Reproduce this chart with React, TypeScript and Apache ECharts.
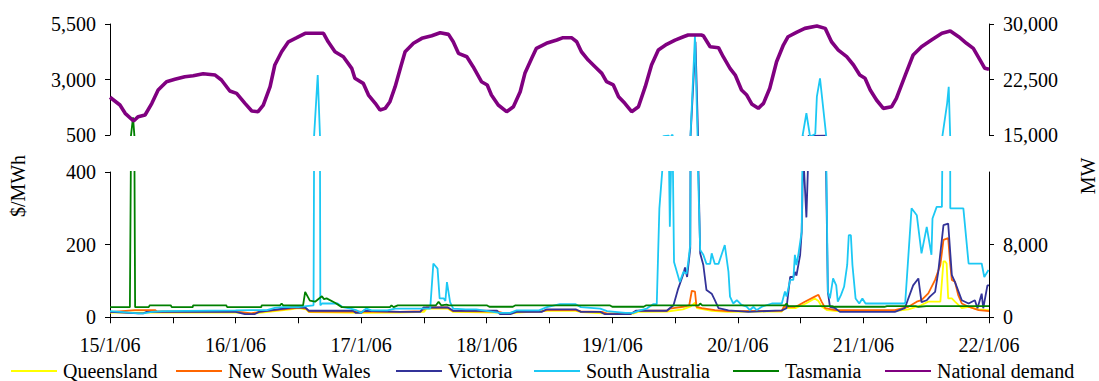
import React, { useEffect, useRef } from "react";
import * as echarts from "echarts";

// Hours since 00:00 on 15/1/06, paired with values.
// Spot prices in $/MWh by region, national demand in MW.
const queensland: [number, number][] = [
  [0, 13], [24, 13], [27, 10], [29, 13], [34.5, 22], [36, 25], [37.5, 22], [38, 14], [48, 12],
  [55.4, 13], [60, 15], [60.5, 24], [64.5, 24], [65.5, 15], [74, 13], [76.5, 10], [78, 13],
  [83.5, 18], [89, 18], [90, 14], [95, 10], [100, 10], [101, 15], [106.5, 16], [109.5, 22],
  [111, 30], [111.8, 40], [112.2, 25], [115, 18], [118, 15], [128.4, 16], [129, 25], [131, 25],
  [133, 38], [134.7, 52], [135.4, 45], [136, 30], [137, 20], [139, 17], [150, 17], [152.6, 22],
  [155, 33], [156.4, 43], [157.7, 43], [158.7, 43], [159.3, 154], [159.6, 154], [159.9, 148],
  [160.2, 52], [160.9, 52], [161.5, 43], [162.8, 25], [164.1, 29], [166, 22], [168, 20],
];

const newSouthWales: [number, number][] = [
  [0, 14], [4.8, 20], [8.6, 20], [9, 16], [24, 16], [27, 11], [29, 16], [34.5, 24], [36, 27],
  [37.5, 24], [38, 16], [55.4, 15], [59.5, 17], [60.5, 27], [64.5, 27], [65.5, 17], [74, 16],
  [75, 12], [76.5, 12], [78, 16], [82.5, 16], [83.5, 20], [89, 20], [90, 16], [94, 15], [95, 10],
  [99.5, 10], [101, 18], [106.5, 18], [107, 24], [108, 26], [109.5, 29], [110.7, 33], [111.2, 73],
  [111.8, 71], [112.1, 29], [113.1, 25], [115.6, 20], [118, 17], [128.4, 18], [128.8, 29],
  [130.9, 29], [131.6, 33], [132.8, 43], [134.7, 57], [135.4, 62], [136, 43], [136.7, 25],
  [138.6, 20], [150, 20], [152.6, 29], [154.2, 43], [155.1, 47], [156.4, 66], [157.7, 103],
  [158.7, 144], [159.3, 213], [160.2, 218], [160.6, 144], [160.9, 103], [161.5, 98], [162.1, 62],
  [162.8, 38], [164.1, 29], [166, 20], [168, 17],
];

const victoria: [number, number][] = [
  [0, 15], [5.4, 11], [6.4, 11], [7, 15], [24, 15], [25.8, 9], [27.7, 9], [28.5, 15], [34.7, 27],
  [37.3, 27], [38, 18], [46.5, 18], [47, 12], [48, 12], [48.5, 18], [55.4, 15], [59.3, 15],
  [59.9, 27], [64.6, 27], [65.6, 18], [74, 18], [74.5, 9], [76.5, 9], [77.7, 15], [82.5, 15],
  [83.5, 22], [89, 22], [90, 15], [93.7, 15], [94.5, 9], [99.5, 9], [100.5, 18], [106.4, 18],
  [107.7, 33], [108.6, 79], [109.6, 120], [109.9, 137], [110.3, 111], [110.9, 190], [111.9, 4700],
  [112.4, 450], [112.8, 176], [113.4, 144], [114, 75], [115, 65], [115.6, 47], [116.3, 25],
  [118.2, 19], [122, 15], [128.4, 19], [129.3, 25], [130, 111], [130.6, 111], [130.9, 125],
  [131.2, 115], [131.9, 171], [132.2, 235], [132.5, 450], [133.1, 275], [133.5, 460], [136.8, 470],
  [137.2, 70], [137.6, 29], [138.6, 25], [139.5, 15], [150, 15], [151.9, 25], [153.5, 88],
  [154.5, 107], [155.1, 42], [156.1, 47], [156.7, 57], [157.7, 70], [158.3, 125], [159.3, 254],
  [160.2, 258], [160.9, 116], [161.5, 97], [162.8, 47], [164.1, 38], [165.3, 47], [165.8, 25],
  [166.6, 65], [166.9, 25], [167.7, 88], [168, 88],
];

const southAustralia: [number, number][] = [
  [0, 17], [2, 15], [5.4, 11], [6.4, 11], [8, 15], [10, 17], [24, 19], [27, 20], [30, 20],
  [31.5, 26], [33, 28], [36, 28], [37.5, 31], [38.9, 33], [39.7, 3200], [40.2, 33], [40.5, 38],
  [43.5, 38], [44.5, 28], [46, 24], [47, 20], [48, 13], [48.6, 20], [49, 24], [50, 19], [53, 19],
  [54.5, 24], [61.2, 24], [61.8, 148], [62.6, 134], [63, 52], [63.8, 52], [64.1, 45], [64.4, 97],
  [65, 42], [65.6, 24], [68, 22], [70, 22], [74.5, 12], [76.5, 12], [77.7, 19], [82, 19],
  [83.5, 28], [86, 36], [89, 36], [90, 28], [93.7, 24], [95, 17], [98.5, 12], [100, 12],
  [101.3, 19], [102.6, 24], [103.8, 36], [104.5, 36], [105, 300], [105.8, 450], [106.8, 470],
  [107, 249], [107.3, 460], [107.5, 520], [107.8, 152], [108.9, 97], [109.6, 125], [110.2, 120],
  [110.5, 150], [110.9, 200], [111.8, 4970], [112.3, 450], [112.8, 185], [113.4, 172], [114, 147],
  [114.7, 147], [115, 176], [115.6, 147], [116.3, 147], [117.5, 199], [118.2, 126], [118.5, 57],
  [119.1, 38], [119.8, 47], [120.7, 34], [121.7, 29], [122.3, 20], [123, 29], [123.6, 20],
  [124.6, 29], [126.5, 38], [128.4, 38], [129, 71], [129.3, 57], [130, 103], [130.6, 103],
  [130.9, 172], [131.2, 144], [131.6, 176], [132.2, 236], [133.1, 1480], [133.8, 430], [134.2, 470],
  [134.8, 560], [135.1, 2225], [135.7, 3050], [136.9, 430], [137.2, 71], [137.6, 52], [138.2, 107],
  [138.8, 88], [139.1, 43], [139.7, 61], [140.3, 84], [140.9, 144], [141.2, 226], [141.6, 226],
  [141.9, 144], [142.5, 52], [143.2, 38], [143.8, 52], [144.4, 38], [151.9, 38], [152, 43],
  [153.2, 300], [154.2, 281], [155.1, 176], [156.1, 249], [157, 172], [157.2, 272], [158, 304],
  [159, 304], [160, 1925], [160.3, 2675], [160.6, 300], [163.1, 300], [164.1, 148], [166.6, 148],
  [167.1, 111], [167.9, 130],
];

const tasmania: [number, number][] = [
  [0, 28], [3.8, 28], [4.4, 1300], [4.8, 28], [7.4, 28], [7.6, 33], [11.6, 33], [11.8, 28],
  [15.8, 28], [15.9, 33], [22.2, 33], [22.4, 28], [28.9, 28], [29, 33], [32.5, 33], [32.8, 38],
  [33.1, 33], [36.9, 33], [37.3, 70], [38.2, 46], [39.2, 43], [40.5, 58], [40.9, 50], [41.4, 52],
  [43, 40], [44.3, 28], [53.5, 28], [53.8, 33], [54.2, 28], [55, 33], [62.3, 33], [62.8, 43],
  [63.3, 33], [64.3, 35], [64.8, 33], [72, 33], [72.5, 29], [77, 29], [77.5, 33], [95.5, 33],
  [96, 29], [102, 29], [102.5, 33], [112.5, 33], [112.8, 38], [113.2, 33], [129, 33], [129.3, 38],
  [129.6, 31], [138, 31], [138.5, 29], [148, 29], [148.5, 31], [154, 31], [154.5, 29], [156, 31],
  [168, 31],
];

const nationalDemand: [number, number][] = [
  [0, 20100], [1.9, 19050], [2.9, 17930], [4.5, 16890], [5.4, 17480], [6.7, 17700], [8, 19280],
  [9.2, 21080], [10.8, 22200], [12.4, 22520], [14.3, 22880], [15.9, 23010], [17.8, 23280],
  [20.1, 23100], [21.3, 22430], [22.9, 20950], [24.2, 20630], [25.8, 19280], [27.1, 18240],
  [28.3, 18150], [29.3, 19050], [30.6, 21530], [31.5, 24460], [32.8, 26250], [34.1, 27600],
  [35.7, 28150], [37.3, 28740], [40.8, 28740], [41.7, 27600], [43, 26250], [44.6, 25580],
  [46.2, 24010], [46.8, 22660], [48.4, 21980], [49.4, 20400], [50.7, 19280], [51.6, 18380],
  [52.6, 18600], [53.5, 19500], [54.5, 21530], [55.6, 24300], [56.4, 26250], [58, 27390],
  [59.6, 28060], [61.5, 28420], [63.1, 28820], [64.7, 28600], [65.6, 27600], [66.6, 26040],
  [68.2, 25580], [69.4, 24230], [71, 22200], [72.1, 21760], [72.9, 20400], [74.2, 19050],
  [75.8, 18150], [77.1, 18820], [78.4, 20850], [79.3, 23330], [80.6, 25360], [81.5, 26710],
  [83.4, 27390], [85.4, 27830], [86.6, 28150], [88.2, 28150], [89.2, 27600], [90.1, 26250],
  [91.4, 25130], [92.7, 24230], [94, 23330], [94.9, 22200], [96.2, 21760], [97.2, 20180],
  [98.4, 19280], [99.7, 18150], [101, 18820], [102.3, 21530], [103.5, 24460], [104.8, 26480],
  [106.4, 27250], [108, 27830], [109.6, 28280], [110.5, 28510], [113, 28510], [113.4, 28420],
  [114.7, 26930], [116.3, 26800], [117.2, 25580], [118.5, 24010], [119.5, 23100], [120.7, 21080],
  [121.7, 20400], [122.7, 19150], [123.9, 18600], [124.9, 19280], [126.1, 21310], [127.4, 24900],
  [128.7, 27160], [129.6, 28280], [131.2, 28870], [132.8, 29410], [135.1, 29730], [136.7, 29410],
  [137.9, 27600], [139.2, 26480], [140.8, 25580], [142.1, 24460], [143.3, 23100], [144.3, 22660],
  [145.3, 21080], [146.5, 19730], [147.8, 18600], [149.4, 18820], [150.3, 19960], [152, 23100],
  [153.5, 25810], [155.1, 26930], [157, 27830], [159, 28740], [160.6, 29050], [162.2, 28280],
  [163.7, 27390], [165, 26710], [166.3, 25130], [167.2, 24010], [168, 23870],
];

const upperPriceTicks = [500, 3000, 5500];
const startDay = 15;

const priceSeries = [
  { name: "Queensland", color: "#FFFF00", data: queensland },
  { name: "New South Wales", color: "#FF6600", data: newSouthWales },
  { name: "Victoria", color: "#333399", data: victoria },
  { name: "South Australia", color: "#1CC8F4", data: southAustralia },
  { name: "Tasmania", color: "#008000", data: tasmania },
];
const demandColor = "#800080";

const FONT = "Liberation Serif";
const fmt = (v: number) => v.toLocaleString("en-US");

export default function App() {
  const ref = useRef<HTMLDivElement>(null);

  useEffect(() => {
    if (!ref.current) return;
    const chart = echarts.init(ref.current, null, { renderer: "svg" });

    const labelStyle = { color: "#000", fontFamily: FONT, fontSize: 20 };
    const axisLine = { show: true, lineStyle: { color: "#000", width: 1 } };

    const series: any[] = [];
    priceSeries.forEach((p) => {
      // upper (broken) price band, then the lower band
      [
        [0, 0],
        [1, 2],
      ].forEach(([xi, yi]) => {
        series.push({
          name: p.name,
          type: "line",
          xAxisIndex: xi,
          yAxisIndex: yi,
          data: p.data,
          showSymbol: false,
          symbol: "none",
          clip: true,
          lineStyle: { color: p.color, width: 1.8 },
          itemStyle: { color: p.color },
        });
      });
    });
    series.push({
      name: "National demand",
      type: "line",
      xAxisIndex: 0,
      yAxisIndex: 1,
      data: nationalDemand,
      showSymbol: false,
      symbol: "none",
      lineStyle: { color: demandColor, width: 3.6 },
      itemStyle: { color: demandColor },
      z: 3,
    });

    const legendItems: [string, number][] = [
      ["Queensland", 10],
      ["New South Wales", 175],
      ["Victoria", 395],
      ["South Australia", 533],
      ["Tasmania", 732],
      ["National demand", 884],
    ];

    // one legend per entry so each sits at its own x position
    const legend = legendItems.map(([name, left]) => ({
      data: [name],
      left,
      top: 361,
      itemWidth: 46,
      itemHeight: 14,
      itemGap: 0,
      padding: 0,
      itemStyle: { color: "transparent", borderWidth: 0, opacity: 0 },
      textStyle: { ...labelStyle, padding: [0, 0, 0, 1] },
      selectedMode: false,
    }));

    chart.setOption({
      animation: false,
      backgroundColor: "#fff",
      textStyle: { fontFamily: FONT },
      legend,
      grid: [
        { left: 110, right: 110, top: 24, height: 111 },
        { left: 110, right: 110, top: 172, height: 145.3 },
      ],
      xAxis: [
        { type: "value", gridIndex: 0, min: 0, max: 168, show: false },
        {
          type: "value",
          gridIndex: 1,
          min: 0,
          max: 168,
          interval: 12,
          axisLine,
          splitLine: { show: false },
          axisTick: { show: true, length: 6, lineStyle: { color: "#000" } },
          axisLabel: {
            ...labelStyle,
            margin: 18,
            formatter: (v: number) =>
              v % 24 === 0 ? `${startDay + v / 24}/1/06` : "",
          },
        },
      ],
      yAxis: [
        {
          type: "value",
          gridIndex: 0,
          position: "left",
          min: 500,
          max: 5500,
          axisLine,
          splitLine: { show: false },
          axisTick: {
            show: true,
            length: 5,
            customValues: upperPriceTicks,
            lineStyle: { color: "#000" },
          },
          axisLabel: {
            ...labelStyle,
            margin: 14,
            customValues: upperPriceTicks,
            formatter: (v: number) => fmt(v),
          },
        },
        {
          type: "value",
          gridIndex: 0,
          position: "right",
          min: 15000,
          max: 30000,
          interval: 7500,
          axisLine,
          splitLine: { show: false },
          axisTick: { show: true, length: 5, lineStyle: { color: "#000" } },
          axisLabel: { ...labelStyle, margin: 14, formatter: (v: number) => fmt(v) },
        },
        {
          type: "value",
          gridIndex: 1,
          position: "left",
          min: 0,
          max: 400,
          interval: 200,
          axisLine,
          splitLine: { show: false },
          axisTick: { show: true, length: 5, lineStyle: { color: "#000" } },
          axisLabel: { ...labelStyle, margin: 14, formatter: (v: number) => fmt(v) },
        },
        {
          type: "value",
          gridIndex: 1,
          position: "right",
          min: 0,
          max: 16000,
          interval: 8000,
          axisLine,
          splitLine: { show: false },
          axisTick: { show: true, length: 5, lineStyle: { color: "#000" } },
          axisLabel: {
            ...labelStyle,
            margin: 14,
            showMaxLabel: false,
            formatter: (v: number) => (v === 16000 ? "" : fmt(v)),
          },
        },
      ],
      graphic: [
        {
          type: "text",
          x: 18,
          y: 186,
          rotation: Math.PI / 2,
          style: {
            text: "$/MWh",
            fill: "#000",
            fontFamily: FONT,
            fontSize: 20,
            textAlign: "center",
            textVerticalAlign: "middle",
          },
        },
        {
          type: "text",
          x: 1088,
          y: 176,
          rotation: Math.PI / 2,
          style: {
            text: "MW",
            fill: "#000",
            fontFamily: FONT,
            fontSize: 20,
            textAlign: "center",
            textVerticalAlign: "middle",
          },
        },
      ],
      series,
    });

    return () => chart.dispose();
  }, []);

  return (
    <div
      ref={ref}
      style={{ position: "absolute", left: 0, top: 0, width: 1099, height: 381 }}
    />
  );
}
